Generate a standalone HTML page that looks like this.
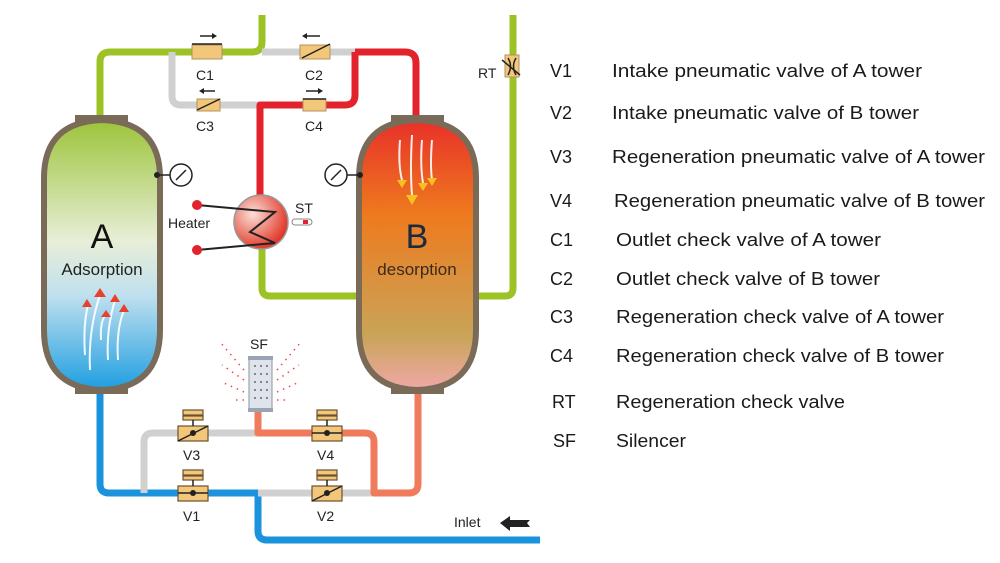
<!DOCTYPE html>
<html><head><meta charset="utf-8"><style>
html,body{margin:0;padding:0;background:#fff;}
svg{display:block;}
.lg{font-family:"Liberation Sans",sans-serif;font-size:18px;fill:#1a1a1a;}
.lb{font-family:"Liberation Sans",sans-serif;font-size:14px;fill:#222;}
</style></head><body>
<svg width="1000" height="563" viewBox="0 0 1000 563" xmlns="http://www.w3.org/2000/svg">
<defs>
<linearGradient id="ga" x1="0" y1="0" x2="0" y2="1">
<stop offset="0" stop-color="#9cc43a"/><stop offset="0.45" stop-color="#e8eed8"/><stop offset="0.65" stop-color="#bfe0ef"/><stop offset="1" stop-color="#1e9ee0"/></linearGradient>
<linearGradient id="gb" x1="0" y1="0" x2="0" y2="1">
<stop offset="0" stop-color="#e8302a"/><stop offset="0.35" stop-color="#ee7a1e"/><stop offset="0.8" stop-color="#c9a458"/><stop offset="1" stop-color="#f0a8a8"/></linearGradient>
<radialGradient id="gh" cx="0.35" cy="0.35" r="0.7"><stop offset="0" stop-color="#fbe0d8"/><stop offset="1" stop-color="#e03020"/></radialGradient>
</defs>
<g fill="none" stroke-width="7" stroke-linejoin="round">
<path d="M100 122 V62 Q100 52 110 52 H252 Q262 52 262 42 V15" stroke="#9cc226"/>
<path d="M262 52 H355" stroke="#d0d0d0"/>
<path d="M172 52 V96 Q172 105 181 105 H258" stroke="#d0d0d0"/>
<path d="M355 52 H405 Q416 52 416 63 V122" stroke="#e3232b"/>
<path d="M355 52 V95 Q355 105 345 105 H260 V200" stroke="#e3232b"/>
<path d="M262 245 V288 Q262 296 270 296 H360" stroke="#9cc226"/>
<path d="M476 296 H505 Q513 296 513 288 V15" stroke="#9cc226"/>
<path d="M100 388 V484 Q100 493 109 493 H258 V531 Q258 540 267 540 H540" stroke="#1b93dc"/>
<path d="M258 493 H374" stroke="#d0d0d0"/>
<path d="M144 493 V442 Q144 433 153 433 H258" stroke="#d0d0d0"/>
<path d="M418 388 V484 Q418 493 409 493 H374 V442 Q374 433 365 433 H258 V412" stroke="#f07a5c"/>
</g>
<rect x="75" y="115" width="53" height="8" fill="#7a6a58"/>
<rect x="75" y="386" width="53" height="8" fill="#7a6a58"/>
<path d="M44 178 Q44 122 102 120 Q160 122 160 178 V330 Q160 388 102 390 Q44 388 44 330 Z" fill="url(#ga)" stroke="#7a6a58" stroke-width="6"/>
<rect x="391" y="115" width="53" height="8" fill="#7a6a58"/>
<rect x="391" y="386" width="53" height="8" fill="#7a6a58"/>
<path d="M359 178 Q359 122 417 120 Q476 122 476 178 V330 Q476 388 417 390 Q359 388 359 330 Z" fill="url(#gb)" stroke="#7a6a58" stroke-width="6"/>
<text x="102" y="248" font-family="Liberation Sans,sans-serif" font-size="34" text-anchor="middle" fill="#111">A</text>
<text x="102" y="275" font-family="Liberation Sans,sans-serif" font-size="17" text-anchor="middle" fill="#222">Adsorption</text>
<text x="417" y="248" font-family="Liberation Sans,sans-serif" font-size="34" text-anchor="middle" fill="#1a2a40">B</text>
<text x="417" y="275" font-family="Liberation Sans,sans-serif" font-size="17" text-anchor="middle" fill="#3a2a20">desorption</text>
<g stroke="#fff" stroke-width="2" fill="none" opacity="0.9">
<path d="M90 370 Q88 330 100 295"/><path d="M85 355 Q83 325 88 305"/><path d="M108 360 Q106 330 115 300"/><path d="M118 360 Q116 330 124 310"/><path d="M101 340 Q100 320 106 315"/>
</g>
<g fill="#e8402a"><path d="M94 297 L100 288 L106 297Z"/><path d="M82 307 L87 299 L92 307Z"/><path d="M110 302 L115 294 L120 302Z"/><path d="M119 312 L124 304 L129 312Z"/><path d="M101 317 L106 310 L111 317Z"/></g>
<g stroke="#fff" stroke-width="2" fill="none" opacity="0.9">
<path d="M412 135 Q410 170 412 195"/><path d="M400 140 Q398 165 402 180"/><path d="M422 140 Q420 165 423 183"/><path d="M432 140 Q430 165 432 180"/>
</g>
<g fill="#f5c020"><path d="M406 195 L412 205 L418 195Z"/><path d="M397 180 L402 188 L407 180Z"/><path d="M418 183 L423 191 L428 183Z"/><path d="M427 178 L432 186 L437 178Z"/></g>
<g stroke="#222" stroke-width="1.5" fill="#fff"><line x1="157" y1="175" x2="170" y2="175"/><circle cx="181" cy="175" r="11"/><line x1="176" y1="180" x2="186" y2="170"/>
<line x1="345" y1="175" x2="360" y2="175"/><circle cx="336" cy="175" r="11"/><line x1="331" y1="180" x2="341" y2="170"/></g>
<circle cx="157" cy="175" r="3" fill="#222"/><circle cx="360" cy="175" r="3" fill="#222"/>
<circle cx="261" cy="222" r="27" fill="url(#gh)" stroke="#999" stroke-width="1.5"/>
<polyline points="197,205 275,212 250,232 275,243 197,250" fill="none" stroke="#222" stroke-width="2"/>
<circle cx="197" cy="205" r="5" fill="#e3232b"/><circle cx="197" cy="250" r="5" fill="#e3232b"/>
<text x="168" y="228" class="lb" font-size="15">Heater</text>
<text x="295" y="213" class="lb">ST</text>
<rect x="292" y="219" width="20" height="6" rx="3" fill="#fff" stroke="#888"/><rect x="303" y="220" width="5" height="4" fill="#e3232b"/>
<g fill="#f2c77a" stroke="#b09060" stroke-width="1">
<rect x="192" y="45" width="30" height="14"/><rect x="300" y="45" width="30" height="14"/>
<rect x="197" y="99" width="23" height="12"/><rect x="303" y="99" width="23" height="12"/>
<rect x="505" y="55" width="14" height="22"/>
</g>
<g stroke="#222" stroke-width="1.5" fill="none">
<line x1="192" y1="44" x2="222" y2="44"/><line x1="302" y1="58" x2="330" y2="44"/><line x1="197" y1="110" x2="220" y2="99"/><line x1="303" y1="99" x2="326" y2="99"/><line x1="502" y1="60" x2="520" y2="75"/><path d="M508 58 Q513 66 508 75"/><path d="M516 58 Q511 66 516 75"/>
<line x1="200" y1="36" x2="212" y2="36"/><line x1="307" y1="36" x2="320" y2="36"/><line x1="204" y1="91" x2="215" y2="91"/><line x1="306" y1="91" x2="318" y2="91"/>
</g>
<g fill="#222"><path d="M212 33 L217 36 L212 39Z"/><path d="M307 33 L302 36 L307 39Z"/><path d="M204 88 L199 91 L204 94Z"/><path d="M318 88 L323 91 L318 94Z"/></g>
<text x="196" y="80" class="lb">C1</text><text x="305" y="80" class="lb">C2</text>
<text x="196" y="131" class="lb">C3</text><text x="305" y="131" class="lb">C4</text>
<text x="478" y="78" class="lb" font-size="13">RT</text>
<g fill="#f2c77a" stroke="#6a5030" stroke-width="1.2">
<rect x="178" y="426" width="30" height="15"/><rect x="312" y="426" width="30" height="15"/>
<rect x="178" y="486" width="30" height="15"/><rect x="312" y="486" width="30" height="15"/>
<rect x="183" y="410" width="20" height="5"/><rect x="183" y="416" width="20" height="4"/><rect x="317" y="410" width="20" height="5"/><rect x="317" y="416" width="20" height="4"/>
<rect x="183" y="470" width="20" height="5"/><rect x="183" y="476" width="20" height="4"/><rect x="317" y="470" width="20" height="5"/><rect x="317" y="476" width="20" height="4"/>
</g>
<g stroke="#222" stroke-width="1.5"><line x1="193" y1="420" x2="193" y2="426"/><line x1="327" y1="420" x2="327" y2="426"/><line x1="193" y1="480" x2="193" y2="486"/><line x1="327" y1="480" x2="327" y2="486"/>
<line x1="178" y1="441" x2="208" y2="426"/><line x1="312" y1="433" x2="342" y2="433"/><line x1="178" y1="493" x2="208" y2="493"/><line x1="312" y1="501" x2="342" y2="486"/></g>
<g fill="#222"><circle cx="193" cy="433" r="3"/><circle cx="327" cy="433" r="3"/><circle cx="193" cy="493" r="3"/><circle cx="327" cy="493" r="3"/></g>
<text x="183" y="460" class="lb">V3</text><text x="317" y="460" class="lb">V4</text>
<text x="183" y="521" class="lb">V1</text><text x="317" y="521" class="lb">V2</text>
<rect x="249" y="358" width="23" height="52" fill="#dfe4ec" stroke="#8890a0"/>
<rect x="248" y="356" width="25" height="4" fill="#9aa4b4"/><rect x="248" y="408" width="25" height="4" fill="#9aa4b4"/>
<g fill="#666"><circle cx="255" cy="366" r="1"/><circle cx="261" cy="366" r="1"/><circle cx="267" cy="366" r="1"/><circle cx="255" cy="374" r="1"/><circle cx="261" cy="374" r="1"/><circle cx="267" cy="374" r="1"/><circle cx="255" cy="382" r="1"/><circle cx="261" cy="382" r="1"/><circle cx="267" cy="382" r="1"/><circle cx="255" cy="390" r="1"/><circle cx="261" cy="390" r="1"/><circle cx="267" cy="390" r="1"/><circle cx="255" cy="398" r="1"/><circle cx="261" cy="398" r="1"/><circle cx="267" cy="398" r="1"/></g>
<g stroke="#e84848" stroke-width="1.5" stroke-dasharray="1.5 5" fill="none">
<line x1="244" y1="370" x2="220" y2="342"/><line x1="244" y1="380" x2="222" y2="365"/><line x1="244" y1="392" x2="224" y2="383"/><line x1="244" y1="400" x2="232" y2="400"/>
<line x1="277" y1="370" x2="301" y2="342"/><line x1="277" y1="380" x2="299" y2="365"/><line x1="277" y1="392" x2="297" y2="383"/><line x1="277" y1="400" x2="289" y2="400"/>
</g>
<text x="250" y="349" class="lb">SF</text>
<text x="454" y="527" class="lb" font-size="15">Inlet</text>
<path d="M500 523 L510 516 V520 H530 L527 523 L530 527 H510 V531Z" fill="#222"/>
<g class="lg">
<text x="550" y="77">V1</text><text x="612" y="77" textLength="310" lengthAdjust="spacingAndGlyphs">Intake pneumatic valve of A tower</text>
<text x="550" y="119">V2</text><text x="612" y="119" textLength="307" lengthAdjust="spacingAndGlyphs">Intake pneumatic valve of B tower</text>
<text x="550" y="163">V3</text><text x="612" y="163" textLength="373" lengthAdjust="spacingAndGlyphs">Regeneration pneumatic valve of A tower</text>
<text x="550" y="207">V4</text><text x="614" y="207" textLength="371" lengthAdjust="spacingAndGlyphs">Regeneration pneumatic valve of B tower</text>
<text x="550" y="246">C1</text><text x="616" y="246" textLength="265" lengthAdjust="spacingAndGlyphs">Outlet check valve of A tower</text>
<text x="550" y="285">C2</text><text x="616" y="285" textLength="264" lengthAdjust="spacingAndGlyphs">Outlet check valve of B tower</text>
<text x="550" y="323">C3</text><text x="616" y="323" textLength="328" lengthAdjust="spacingAndGlyphs">Regeneration check valve of A tower</text>
<text x="550" y="362">C4</text><text x="616" y="362" textLength="328" lengthAdjust="spacingAndGlyphs">Regeneration check valve of B tower</text>
<text x="552" y="408">RT</text><text x="616" y="408" textLength="229" lengthAdjust="spacingAndGlyphs">Regeneration check valve</text>
<text x="553" y="447">SF</text><text x="616" y="447" textLength="70" lengthAdjust="spacingAndGlyphs">Silencer</text>
</g>
</svg>
</body></html>
